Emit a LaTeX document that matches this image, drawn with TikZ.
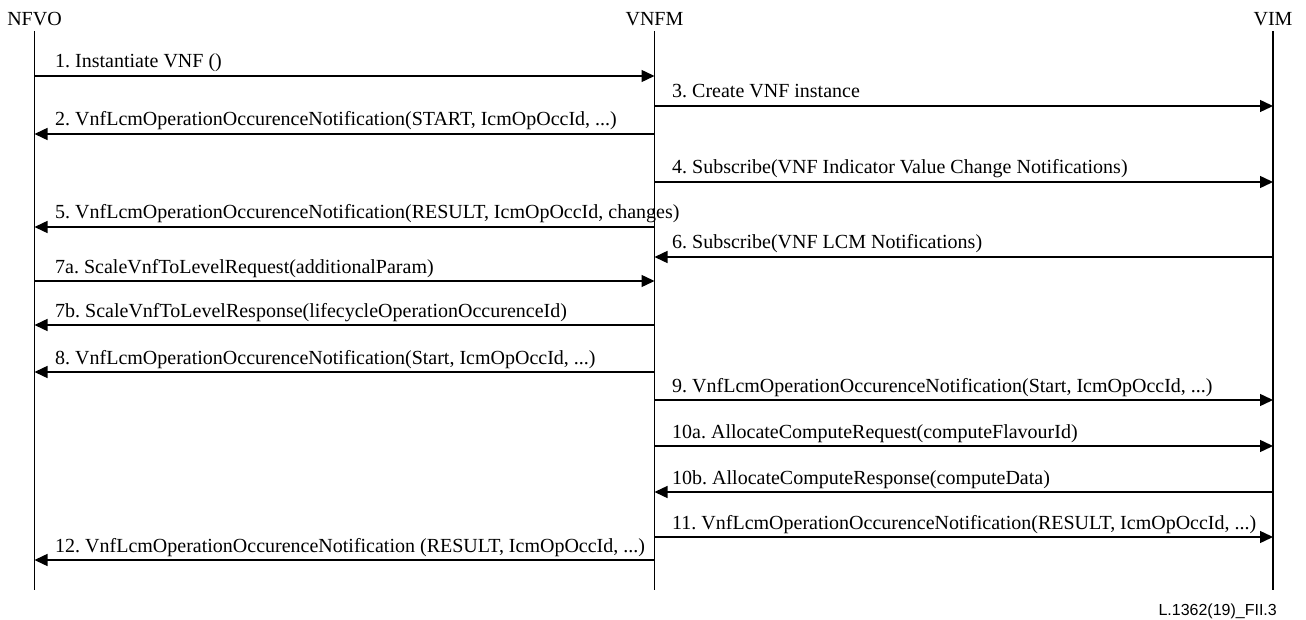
\documentclass[tikz,border=0pt]{standalone}
\usepackage{fontspec}
\setmainfont{Liberation Serif}
\setsansfont{Liberation Sans}
\usetikzlibrary{arrows.meta}

% One message: name, start x, end x, y, label text
\newcommand\seqmsg[5]{%
  \coordinate (#1s) at (#2,#4);
  \coordinate (#1e) at (#3,#4);
  \draw[msg] (#1s) -- (#1e);
  \pgfmathsetmacro\lblx{min(#2,#3)+(min(#2,#3)<100 ? 20.5 : 17.5)}
  \node[lbl] (#1l) at (\lblx,{#4-8}) {#5};
}

\begin{document}
\frenchspacing
\begin{tikzpicture}[x=1pt,y=-1pt,
  lifeline/.style={line width=1.4pt},
  msg/.style={line width=1.4pt,-{Triangle[length=13pt,width=12pt]}},
  lbl/.style={anchor=base west,inner sep=0pt,font=\fontsize{20}{23}\selectfont},
  actor/.style={anchor=base,inner sep=0pt,font=\fontsize{20}{23}\selectfont},
  figid/.style={anchor=base east,inner sep=0pt,font=\sffamily\fontsize{16}{18}\selectfont}]
\useasboundingbox (0,0) rectangle (1306,620);

\def\xa{34.5}
\def\xb{654.5}
\def\xc{1273}

% actors and lifelines
\node[actor] (nfvo) at (\xa,26) {NFVO};
\node[actor] (vnfm) at (\xb,26) {VNFM};
\node[actor] (vim)  at (\xc,26) {VIM};
\coordinate (nfvoend) at (\xa,590);
\coordinate (vnfmend) at (\xb,590);
\coordinate (vimend)  at (\xc,590);
\draw[lifeline] ([yshift=-5pt]nfvo.base) -- (nfvoend);
\draw[lifeline] ([yshift=-5pt]vnfm.base) -- (vnfmend);
\draw[lifeline] ([yshift=-5pt]vim.base)  -- (vimend);

% messages
\seqmsg{m1}{\xa}{\xb}{76}{1. Instantiate VNF ()}
\seqmsg{m3}{\xb}{\xc}{106}{3. Create VNF instance}
\seqmsg{m2}{\xb}{\xa}{134}{2. VnfLcmOperationOccurenceNotification(START, IcmOpOccId, ...)}
\seqmsg{m4}{\xb}{\xc}{182}{4. Subscribe(VNF Indicator Value Change Notifications)}
\seqmsg{m5}{\xb}{\xa}{227}{5. VnfLcmOperationOccurenceNotification(RESULT, IcmOpOccId, changes)}
\seqmsg{m6}{\xc}{\xb}{257}{6. Subscribe(VNF LCM Notifications)}
\seqmsg{m7a}{\xa}{\xb}{281}{7a. ScaleVnfToLevelRequest(additionalParam)}
\seqmsg{m7b}{\xb}{\xa}{325}{7b. ScaleVnfToLevelResponse(lifecycleOperationOccurenceId)}
\seqmsg{m8}{\xb}{\xa}{372}{8. VnfLcmOperationOccurenceNotification(Start, IcmOpOccId, ...)}
\seqmsg{m9}{\xb}{\xc}{400}{9. VnfLcmOperationOccurenceNotification(Start, IcmOpOccId, ...)}
\seqmsg{m10a}{\xb}{\xc}{446}{10a. AllocateComputeRequest(computeFlavourId)}
\seqmsg{m10b}{\xc}{\xb}{492}{10b. AllocateComputeResponse(computeData)}
\seqmsg{m11}{\xb}{\xc}{537}{11. VnfLcmOperationOccurenceNotification(RESULT, IcmOpOccId, ...)}
\seqmsg{m12}{\xb}{\xa}{560}{12. VnfLcmOperationOccurenceNotification (RESULT, IcmOpOccId, ...)}

% figure identifier
\node[figid] (fig) at (1277,615) {L.1362(19)\_FII.3};
\end{tikzpicture}
\end{document}
